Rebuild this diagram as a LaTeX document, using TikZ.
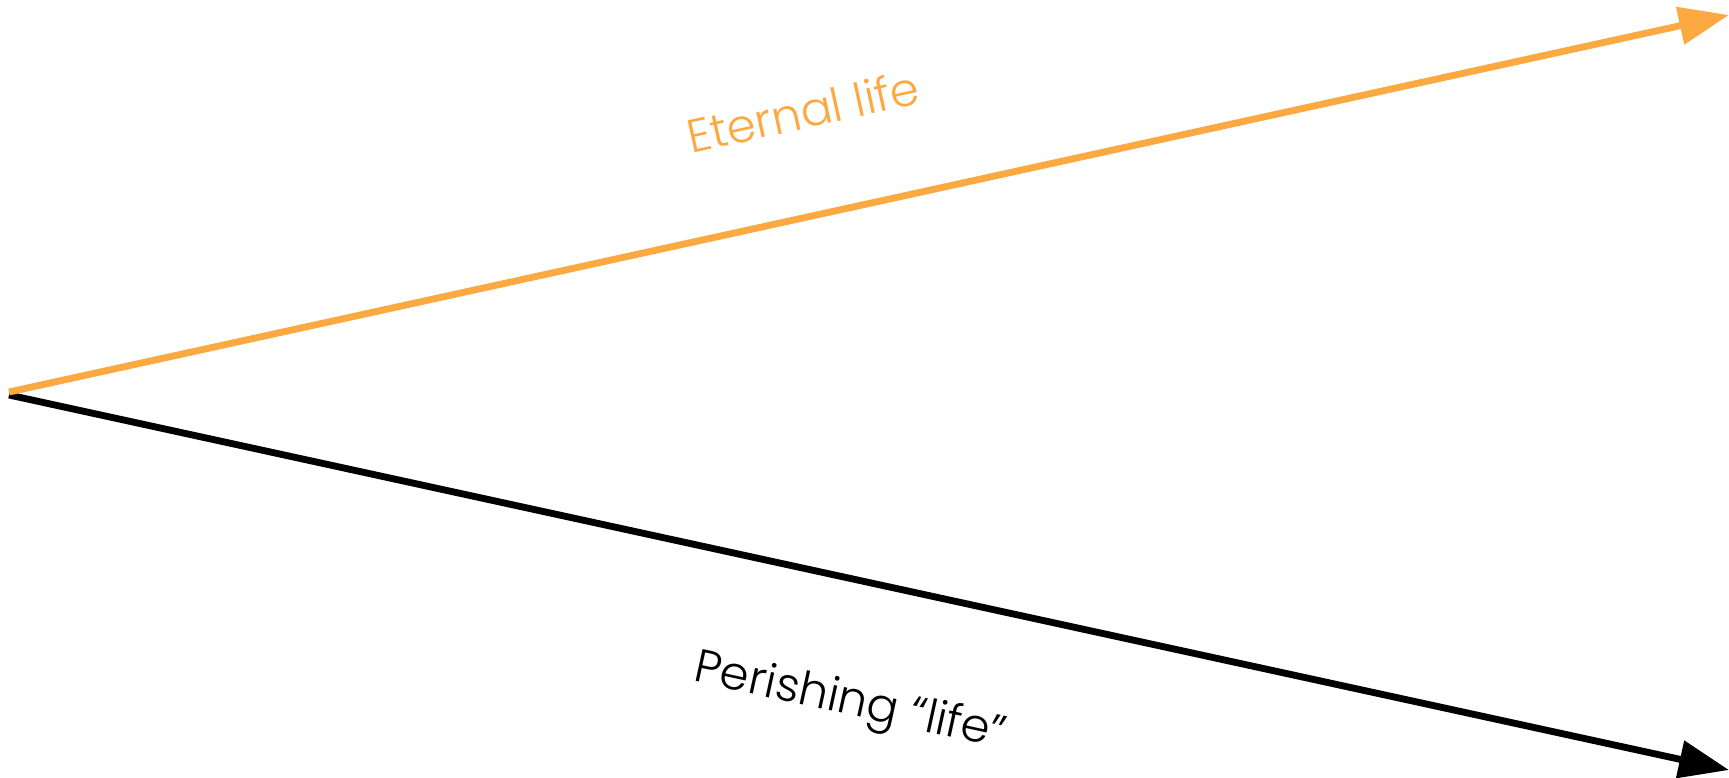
\documentclass[tikz,border=0pt]{standalone}
\usepackage{fontspec}
\setmainfont{Poppins}[UprightFont=* Light]
\usetikzlibrary{arrows.meta}
\definecolor{lifeorange}{RGB}{251,169,64}

\begin{document}
\begin{tikzpicture}[
    x=0.02cm, y=-0.02cm,
    font=\fontsize{26.5}{30}\selectfont,
    way/.style={line width=3.9pt,-{Triangle[length=28.5pt,width=21pt]}},
    wordlabel/.style={sloped,inner sep=0pt}
]
\useasboundingbox (0,0) rectangle (1729,778);

\coordinate (startup) at (9,392);
\coordinate (startdown) at (9,395);
\coordinate (eternal) at (1729,15);
\coordinate (perish) at (1729,770);

\draw[way,black] (startdown) -- node[wordlabel,pos=0.504,below=1.9cm] (perishtext) {Perishing “life”} (perish);
\draw[way,lifeorange] (startup) -- node[wordlabel,pos=0.4745,above=1.66cm,text=lifeorange] (eternaltext) {Eternal life} (eternal);

\end{tikzpicture}
\end{document}
